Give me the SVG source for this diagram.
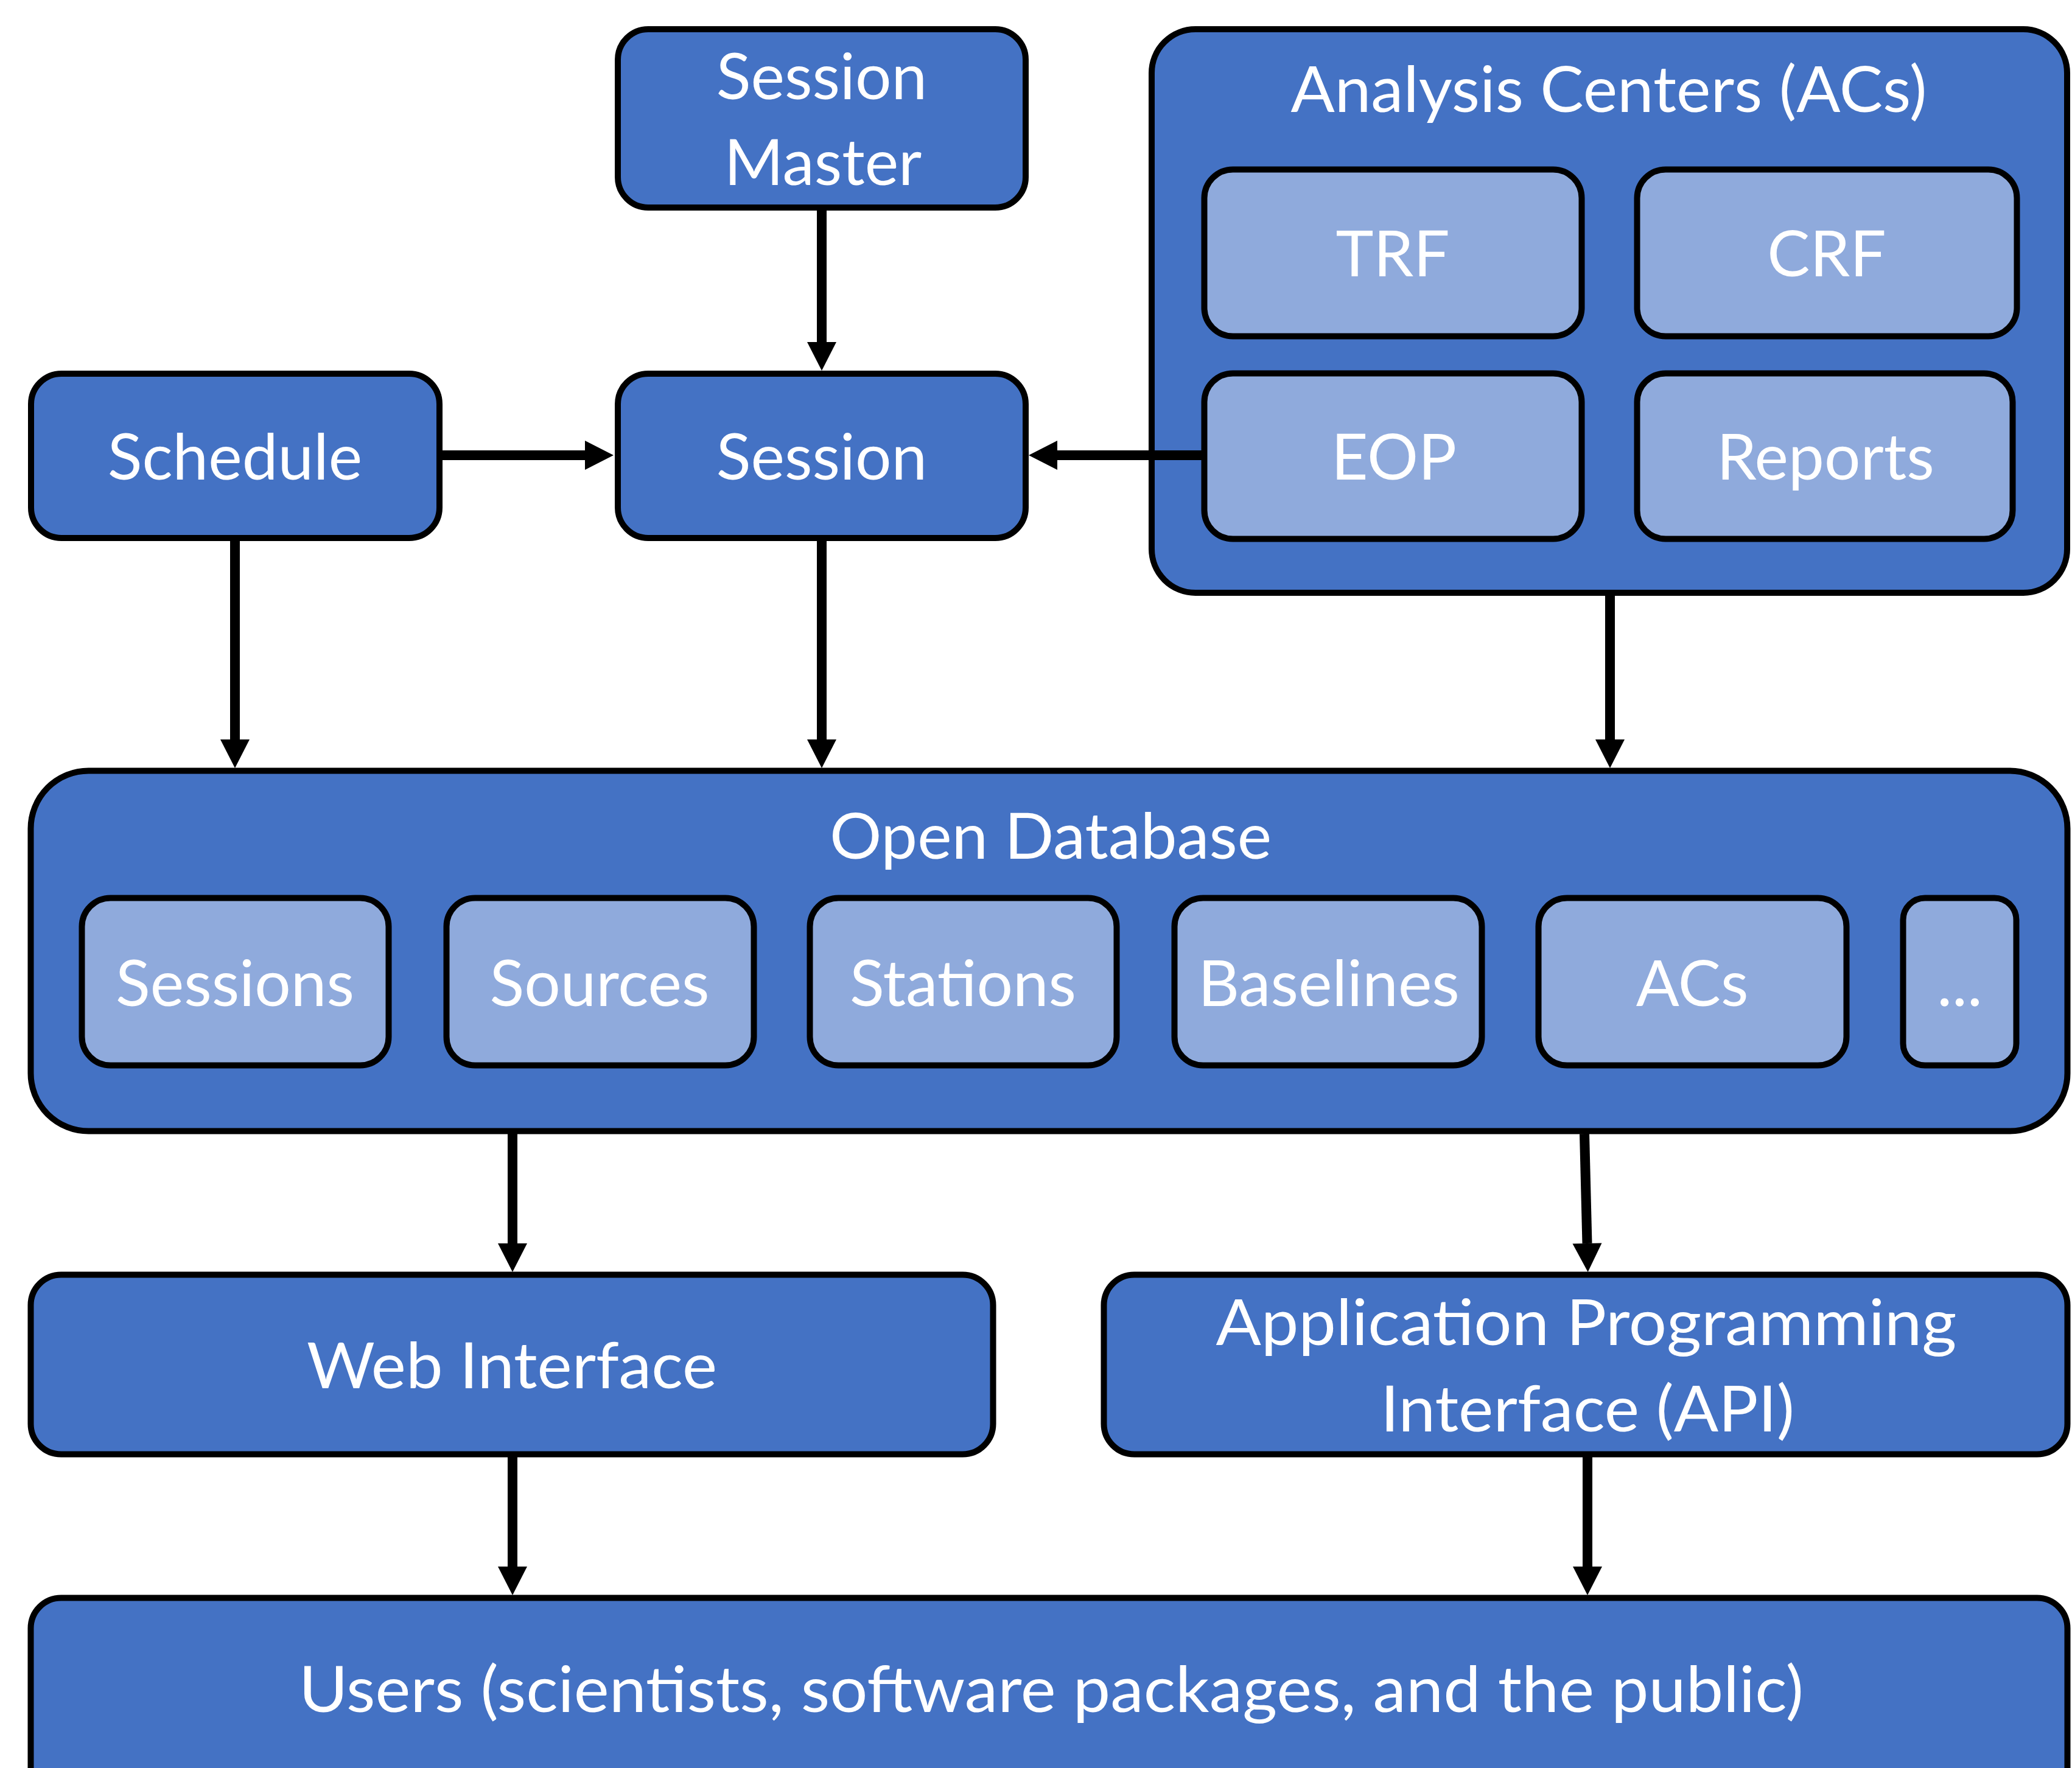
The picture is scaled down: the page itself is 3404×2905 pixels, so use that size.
<svg xmlns="http://www.w3.org/2000/svg" width="3404" height="2905" viewBox="0 0 3404 2905">
<style>
.box{fill:#4472C4;stroke:#000;stroke-width:10}
.sub{fill:#8FAADC;stroke:#000;stroke-width:10}
.t{fill:#fff;font-family:Lato,"Liberation Sans",Arial,sans-serif;font-size:105px;text-anchor:middle}
.c{fill:none;stroke:#000;stroke-width:16;marker-end:url(#ah)}
</style>
<defs>
<marker id="ah" markerUnits="userSpaceOnUse" markerWidth="48" markerHeight="48" refX="0" refY="24" orient="auto" overflow="visible">
<path d="M0,0 L47,24 L0,48 Z" fill="#000"/>
</marker>
</defs>
<rect width="3404" height="2905" fill="#fff"/>
<g id="session-master">
<rect class="box" x="1015" y="48" width="670" height="293" rx="50"/>
<text class="t" x="1350" y="163">Session</text>
<text class="t" x="1352" y="304">Master</text>
</g>
<g id="schedule">
<rect class="box" x="51" y="614" width="671" height="270" rx="50"/>
<text class="t" x="386" y="788">Schedule</text>
</g>
<g id="session">
<rect class="box" x="1015" y="614" width="670" height="270" rx="50"/>
<text class="t" x="1350" y="788">Session</text>
</g>
<g id="analysis-centers">
<rect class="box" x="1892" y="48" width="1504" height="926" rx="72"/>
<text class="t" x="2643" y="184" textLength="1045" lengthAdjust="spacingAndGlyphs">Analysis Centers (ACs)</text>
</g>
<g id="trf">
<rect class="sub" x="1978.5" y="278.5" width="620" height="274" rx="47"/>
<text class="t" x="2288" y="454">TRF</text>
</g>
<g id="crf">
<rect class="sub" x="2689.5" y="278.5" width="624" height="274" rx="47"/>
<text class="t" x="3001" y="454">CRF</text>
</g>
<g id="eop">
<rect class="sub" x="1978.5" y="613.5" width="620" height="272" rx="47"/>
<text class="t" x="2290" y="788">EOP</text>
</g>
<g id="reports">
<rect class="sub" x="2689.5" y="613.5" width="617" height="272" rx="47"/>
<text class="t" x="2999" y="788">Reports</text>
</g>
<g id="open-database">
<rect class="box" x="50.5" y="1266.5" width="3346" height="592" rx="95"/>
<text class="t" x="1726" y="1411" textLength="726" lengthAdjust="spacingAndGlyphs">Open Database</text>
</g>
<g id="db-sessions">
<rect class="sub" x="134.5" y="1475.5" width="504" height="275" rx="47"/>
<text class="t" x="386" y="1653">Sessions</text>
</g>
<g id="db-sources">
<rect class="sub" x="733.5" y="1475.5" width="505" height="275" rx="47"/>
<text class="t" x="985" y="1653">Sources</text>
</g>
<g id="db-stations">
<rect class="sub" x="1330.5" y="1475.5" width="504" height="275" rx="47"/>
<text class="t" x="1582" y="1653">Stations</text>
</g>
<g id="db-baselines">
<rect class="sub" x="1929.5" y="1475.5" width="505" height="275" rx="47"/>
<text class="t" x="2183" y="1653">Baselines</text>
</g>
<g id="db-acs">
<rect class="sub" x="2527.5" y="1475.5" width="506" height="275" rx="47"/>
<text class="t" x="2780" y="1653">ACs</text>
</g>
<g id="db-more">
<rect class="sub" x="3126.5" y="1475.5" width="186" height="275" rx="36"/>
<text class="t" x="3219.5" y="1653">...</text>
</g>
<g id="web-interface">
<rect class="box" x="50.5" y="2094.5" width="1581" height="295" rx="50"/>
<text class="t" x="841" y="2281" textLength="674" lengthAdjust="spacingAndGlyphs">Web Interface</text>
</g>
<g id="api">
<rect class="box" x="1813.5" y="2094.5" width="1583" height="295" rx="50"/>
<text class="t" x="2606" y="2210" textLength="1217" lengthAdjust="spacingAndGlyphs">Application Programming</text>
<text class="t" x="2608" y="2352" textLength="680" lengthAdjust="spacingAndGlyphs">Interface (API)</text>
</g>
<g id="users">
<rect class="box" x="50.5" y="2625.5" width="3346" height="400" rx="50"/>
<text class="t" x="1727" y="2813" textLength="2472" lengthAdjust="spacingAndGlyphs">Users (scientists, software packages, and the public)</text>
</g>
<g id="connectors">
<line class="c" x1="1350" y1="346" x2="1350" y2="562"/>
<line class="c" x1="727" y1="748" x2="961" y2="748"/>
<line class="c" x1="1974" y1="748" x2="1737" y2="748"/>
<line class="c" x1="386" y1="889" x2="386" y2="1215"/>
<line class="c" x1="1350" y1="889" x2="1350" y2="1215"/>
<line class="c" x1="2645" y1="979" x2="2645" y2="1215"/>
<line class="c" x1="842" y1="1863" x2="842" y2="2043"/>
<line class="c" x1="2603" y1="1863" x2="2607.5" y2="2043"/>
<line class="c" x1="842" y1="2394" x2="842" y2="2574"/>
<line class="c" x1="2608" y1="2394" x2="2608" y2="2574"/>
</g>
</svg>
